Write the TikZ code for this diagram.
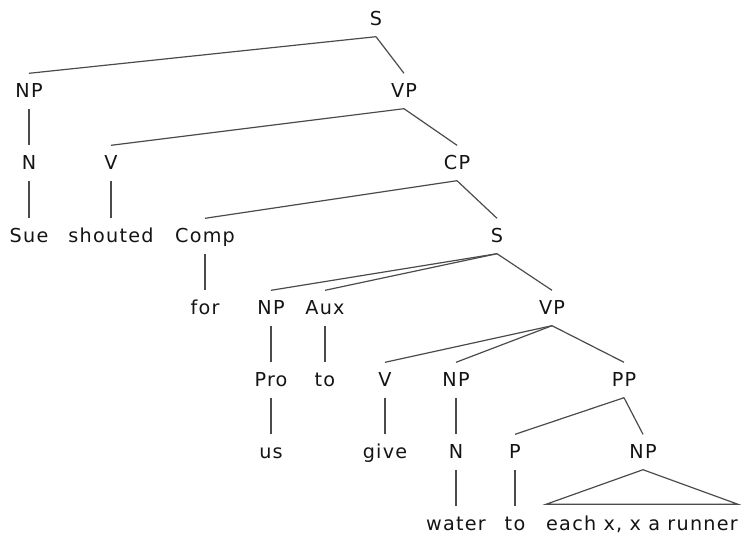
\documentclass[tikz,border=0pt]{standalone}
\usepackage{fontspec}
\newfontfamily\treeFont[LetterSpace=6.5]{DejaVu Sans}
\definecolor{treeInk}{RGB}{20,20,20}
\definecolor{treeLine}{RGB}{75,75,75}

\begin{document}
\begin{tikzpicture}[x=1pt,y=-1pt,
  lbl/.style={inner sep=0pt,minimum height=35pt,text height=13.5pt,text depth=0pt,text=treeInk,font=\treeFont\fontsize{19.2}{22}\selectfont},
  branch/.style={draw=treeLine,line width=1.2pt}]
\path[use as bounding box] (0,0) rectangle (741,536);

\node[lbl] (sRoot) at (376,19) {S};

\node[lbl] (npSue) at (29,91) {NP};
\node[lbl] (vpMain) at (404,91) {VP};

\node[lbl] (nSue) at (29,163) {N};
\node[lbl] (vShout) at (111,163) {V};
\node[lbl] (cpFor) at (457,163) {CP};

\node[lbl] (wSue) at (29,236) {Sue};
\node[lbl] (wShouted) at (111,236) {shouted};
\node[lbl] (comp) at (205,236) {Comp};
\node[lbl] (sInner) at (497,236) {S};

\node[lbl] (wFor) at (205,308) {for};
\node[lbl] (npUs) at (271,308) {NP};
\node[lbl] (aux) at (325,308) {Aux};
\node[lbl] (vpGive) at (552,308) {VP};

\node[lbl] (pro) at (271,380) {Pro};
\node[lbl] (wTo) at (325,380) {to};
\node[lbl] (vGive) at (385,380) {V};
\node[lbl] (npWater) at (456,380) {NP};
\node[lbl] (pp) at (624,380) {PP};

\node[lbl] (wUs) at (271,452) {us};
\node[lbl] (wGive) at (385,452) {give};
\node[lbl] (nWater) at (456,452) {N};
\node[lbl] (pTo) at (515,452) {P};
\node[lbl] (npEach) at (643,452) {NP};

\node[lbl] (wWater) at (456,524) {water};
\node[lbl] (wToB) at (515,524) {to};
\node[lbl] (wEach) at (642,524) {each x, x a runner};

\draw[branch] (sRoot.south) -- (npSue.north);
\draw[branch] (sRoot.south) -- (vpMain.north);
\draw[branch] (npSue.south) -- (nSue.north);
\draw[branch] (nSue.south) -- (wSue.north);
\draw[branch] (vpMain.south) -- (vShout.north);
\draw[branch] (vpMain.south) -- (cpFor.north);
\draw[branch] (vShout.south) -- (wShouted.north);
\draw[branch] (cpFor.south) -- (comp.north);
\draw[branch] (cpFor.south) -- (sInner.north);
\draw[branch] (comp.south) -- (wFor.north);
\draw[branch] (sInner.south) -- (npUs.north);
\draw[branch] (sInner.south) -- (aux.north);
\draw[branch] (sInner.south) -- (vpGive.north);
\draw[branch] (npUs.south) -- (pro.north);
\draw[branch] (pro.south) -- (wUs.north);
\draw[branch] (aux.south) -- (wTo.north);
\draw[branch] (vpGive.south) -- (vGive.north);
\draw[branch] (vpGive.south) -- (npWater.north);
\draw[branch] (vpGive.south) -- (pp.north);
\draw[branch] (vGive.south) -- (wGive.north);
\draw[branch] (npWater.south) -- (nWater.north);
\draw[branch] (nWater.south) -- (wWater.north);
\draw[branch] (pp.south) -- (pTo.north);
\draw[branch] (pp.south) -- (npEach.north);
\draw[branch] (pTo.south) -- (wToB.north);
\draw[branch] (npEach.south) -- ([yshift=2pt]wEach.north west) -- ([yshift=2pt]wEach.north east) -- cycle;
\end{tikzpicture}
\end{document}
